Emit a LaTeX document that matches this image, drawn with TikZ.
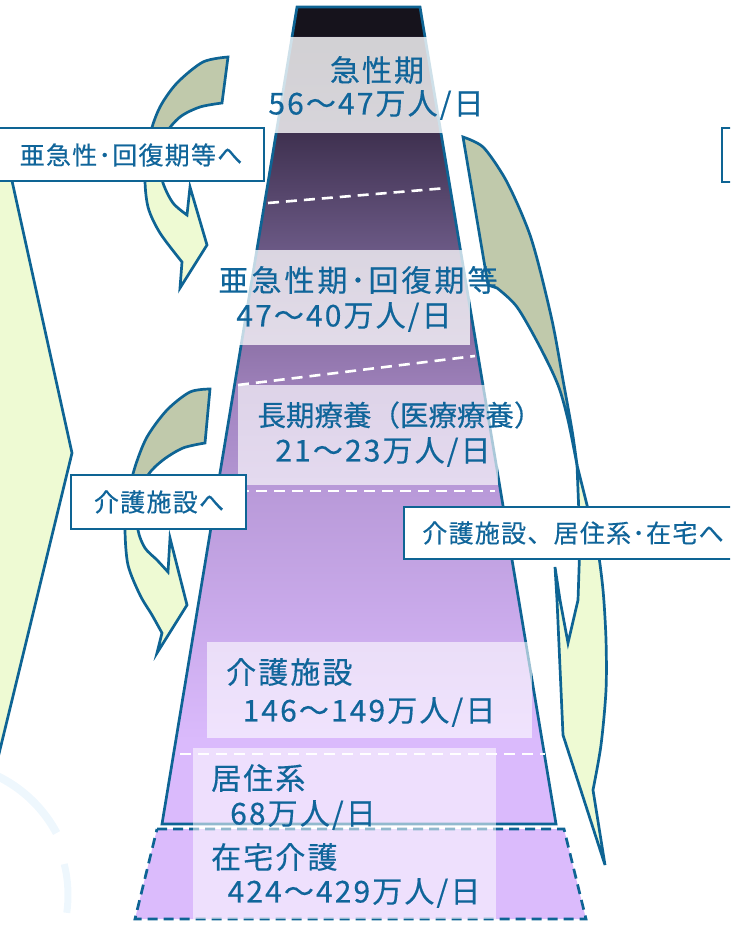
\documentclass[tikz,border=0pt]{standalone}
\usepackage{fontspec}
\newfontfamily\jp[FakeBold=0.4,LetterSpace=7]{Noto Sans CJK JP}
\newfontfamily\jpb[FakeBold=0.4,LetterSpace=5]{Noto Sans CJK JP}
\newfontfamily\jpc[FakeBold=0.4,LetterSpace=10]{Noto Sans CJK JP}
\newfontfamily\jpd[FakeBold=0.4]{Noto Sans CJK JP}
\definecolor{ln}{HTML}{0E6494}
\definecolor{tx}{HTML}{10659A}
\definecolor{olv}{HTML}{C0C9AB}
\definecolor{pale}{HTML}{EEFAD3}
\definecolor{lav}{HTML}{DBBBFC}
\definecolor{faint}{HTML}{EEF7FD}
\definecolor{b0}{HTML}{16131C}
\definecolor{b1}{HTML}{1E1928}
\definecolor{b2}{HTML}{3A2C4A}
\definecolor{b3}{HTML}{3F3150}
\definecolor{b4}{HTML}{6B5985}
\definecolor{b5}{HTML}{6E5B89}
\definecolor{b6}{HTML}{8D72A8}
\definecolor{b7}{HTML}{8F74AA}
\definecolor{b8}{HTML}{9C7FB8}
\definecolor{b9}{HTML}{A083BE}
\definecolor{b10}{HTML}{B396D3}
\definecolor{b11}{HTML}{B899D8}
\definecolor{b12}{HTML}{DABAFC}
\tikzset{
  outl/.style={draw=ln, line width=2.7pt, line join=miter},
  wdash/.style={draw=white, line width=2.6pt, dash pattern=on 11pt off 7pt},
  lbl/.style={text=tx, font=\jp\fontsize{30}{35}\selectfont, inner sep=0pt},
  boxlbl/.style={text=tx, font=\jpb\fontsize{25}{30}\selectfont, inner sep=0pt},
  tagbox/.style={draw=ln, line width=2.8pt, fill=white},
  veil/.style={fill=white, draw=none},
}
\begin{document}
\begin{tikzpicture}[x=1pt,y=-1pt]
\useasboundingbox (0,0) rectangle (730,925);
\clip (0,0) rectangle (730,925);

% faint background arcs
\draw[faint, line width=8pt] ([shift={(-60,895)}]-80:132) arc[start angle=-80, end angle=-28, radius=132];
\draw[faint, line width=7pt] ([shift={(-60,895)}]-14:128) arc[start angle=-14, end angle=8, radius=128];

% main trapezoid bands
\begin{scope}
\clip (297,7) -- (420,7) -- (556,824) -- (162,824) -- cycle;
\fill[b0] (150,0) rectangle (570,37);
\shade[top color=b1, bottom color=b2] (150,37) rectangle (570,133);
\shade[top color=b3, bottom color=b4] (150,133) rectangle (570,250);
\shade[top color=b5, bottom color=b6] (150,250) rectangle (570,345);
\shade[top color=b7, bottom color=b8] (150,345) rectangle (570,385);
\shade[top color=b9, bottom color=b10] (150,385) rectangle (570,485);
\shade[top color=b11, bottom color=b12] (150,485) rectangle (570,740);
\fill[b12] (150,740) rectangle (570,825);
\end{scope}
\draw[outl] (297,7) -- (420,7) -- (556,824) -- (162,824) -- cycle;

% home care trapezoid (dashed)
\fill[lav] (157,829) -- (564,829) -- (586,919) -- (135,919) -- cycle;
\draw[draw=ln, line width=2.7pt, dash pattern=on 10pt off 6pt] (157,829) -- (564,829) -- (586,919) -- (135,919) -- cycle;

% white dashed separators
\draw[wdash] (268,203) -- (447,188);
\draw[wdash] (238,385) -- (475,356);
\draw[wdash] (238,491) -- (495,491);
\draw[wdash] (180,754) -- (545,754);

% translucent label panels
\fill[veil, fill opacity=0.8] (268,37) rectangle (445,133);
\fill[veil, fill opacity=0.75] (230,250) rectangle (470,345);
\fill[veil, fill opacity=0.65] (238,385) rectangle (498,485);
\fill[veil, fill opacity=0.6] (207,642) rectangle (532,738);
\fill[veil, fill opacity=0.55] (193,748) rectangle (496,919);

% left chevron
\draw[outl, fill=pale] (-10,140) -- (3,140) -- (72,453) -- (-3,762) -- (-10,762) -- cycle;

% curved arrow 1 (upper left)
\def\arrowA{plot[smooth] coordinates {(228,57) (203,62) (177,83) (160,107) (150,135) (145,175) (148,207) (160,233) (182,262)} -- (180,288) -- (207,245) -- (190,187) -- (187,215) -- plot[smooth] coordinates {(187,215) (173,203) (163,183) (159,160) (165,135) (180,117) (200,107) (222,103)} -- cycle}
\fill[pale] \arrowA;
\begin{scope}
\clip (0,0) rectangle (400,155);
\fill[olv] \arrowA;
\end{scope}
\draw[outl] \arrowA;

% curved arrow 2 (middle left)
\def\arrowB{plot[smooth] coordinates {(210,389) (190,392) (167,410) (147,437) (135,467) (127,500) (125,530) (128,565) (140,595) (152,615) (162,633)} -- (157,653) -- (187,605) -- (170,538) -- (168,572) -- plot[smooth] coordinates {(168,572) (157,560) (145,548) (138,530) (137,500) (148,475) (163,460) (183,448) (205,443)} -- cycle}
\fill[pale] \arrowB;
\begin{scope}
\clip (0,0) rectangle (400,500);
\fill[olv] \arrowB;
\end{scope}
\draw[outl] \arrowB;

% right long curved arrow: back face
\draw[outl, fill=olv] plot[smooth] coordinates {(463,137) (483,147) (503,175) (517,203) (530,235) (540,270) (553,325) (563,380) (572,430) (577,465)} -- plot[smooth] coordinates {(577,465) (568,420) (558,385) (540,347) (517,307) (497,288)} -- (488,285) -- cycle;
% right long curved arrow: front face
\draw[outl, fill=pale] plot[smooth] coordinates {(577,465) (587,505) (597,545) (603,590) (606,640) (606,690) (601,745) (593,790)} -- (605,865) -- (563,735) -- (557,600) -- (555,567) -- (560,600) -- (568,643) -- (578,600) -- (580,540) -- cycle;

% tag boxes
\draw[tagbox] (-5,128) rectangle (264,181);
\node[boxlbl] (t1) at (131,155) {亜急性･回復期等へ};
\draw[tagbox] (71,475) rectangle (246,529);
\node[boxlbl] (t2) at (159,502) {介護施設へ};
\draw[tagbox] (404,507) rectangle (745,559);
\node[boxlbl] (t3) at (573,533) {介護施設、居住系･在宅へ};
\draw[tagbox] (722,128) rectangle (760,182);

% labels
\node[lbl] (l1a) at (377,70) {急性期};
\node[lbl] (l1b) at (376,105) {56～47万人/日};
\node[lbl, font=\jpc\fontsize{30}{35}\selectfont] (l2a) at (358,280) {亜急性期･回復期等};
\node[lbl] (l2b) at (344,317) {47～40万人/日};
\node[lbl, font=\jpd\fontsize{28.5}{34}\selectfont] (l3a) at (400,415) {長期療養（医療療養）};
\node[lbl] (l3b) at (383,452) {21～23万人/日};
\node[lbl, anchor=west] (l4a) at (226,672) {介護施設};
\node[lbl] (l4b) at (369,712) {146～149万人/日};
\node[lbl, anchor=west] (l5a) at (211,778) {居住系};
\node[lbl] (l5b) at (303,815) {68万人/日};
\node[lbl, anchor=west] (l6a) at (211,857) {在宅介護};
\node[lbl] (l6b) at (354,893) {424～429万人/日};
\end{tikzpicture}
\end{document}
